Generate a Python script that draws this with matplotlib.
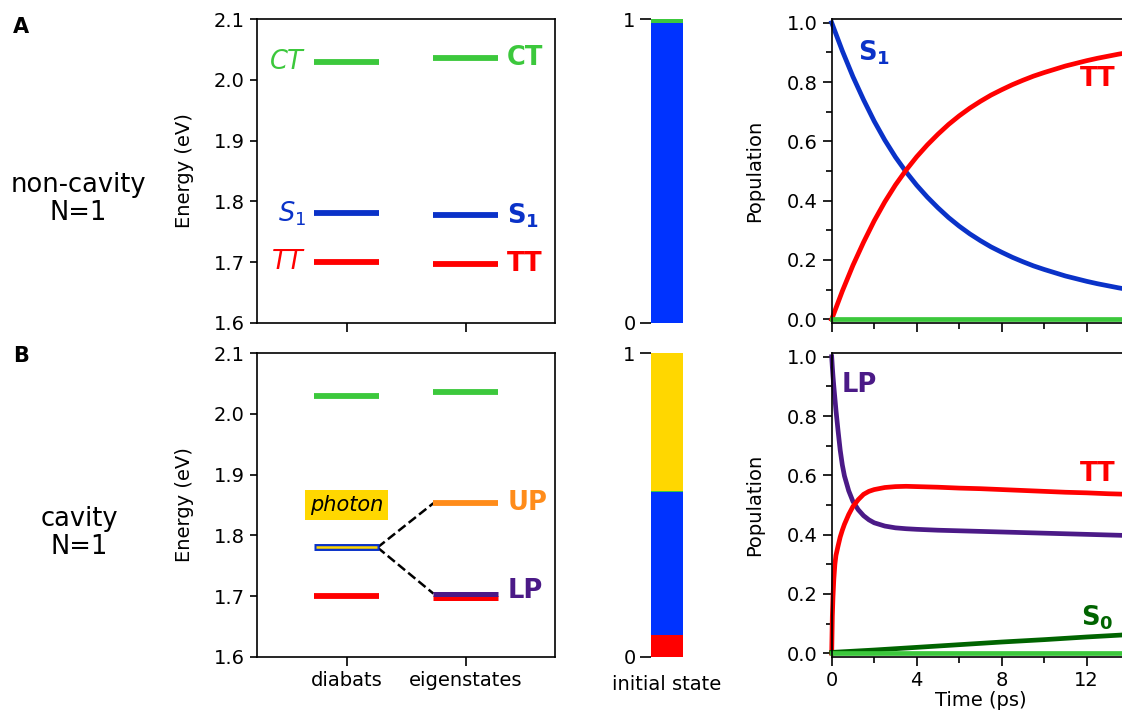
import matplotlib
matplotlib.use("Agg")
import matplotlib.pyplot as plt
from matplotlib.ticker import MultipleLocator

# ---------------- data ----------------
# energy levels (eV)
diabat_A = {"CT": 2.030, "S1": 1.780, "TT": 1.700}
eigen_A = {"CT": 2.037, "S1": 1.777, "TT": 1.697}
diabat_B = {"CT": 2.030, "photon": 1.780, "TT": 1.700}
eigen_B = {"CT": 2.037, "UP": 1.853, "LP": 1.704, "TT": 1.697}

# initial-state composition (bottom -> top)
bar_states = ["TT", "S1", "CT", "photon"]
bar_A = [0.0, 0.988, 0.012, 0.0]
bar_B = [0.073, 0.469, 0.003, 0.455]

# population dynamics, panel A
tA = [0, 0.5, 1, 1.5, 2, 2.5, 3, 3.5, 4, 4.5, 5, 5.5, 6, 6.5, 7, 7.5, 8, 8.5,
      9, 9.5, 10, 10.5, 11, 11.5, 12, 12.5, 13, 13.5, 14]
S1_A = [1.000, 0.905, 0.818, 0.740, 0.668, 0.604, 0.547, 0.497, 0.452, 0.412,
        0.376, 0.343, 0.314, 0.288, 0.265, 0.244, 0.226, 0.209, 0.194, 0.180,
        0.168, 0.157, 0.146, 0.137, 0.128, 0.120, 0.113, 0.106, 0.100]
TT_A = [0.000, 0.095, 0.182, 0.260, 0.332, 0.396, 0.453, 0.503, 0.548, 0.588,
        0.624, 0.657, 0.686, 0.712, 0.735, 0.756, 0.774, 0.791, 0.806, 0.820,
        0.832, 0.843, 0.854, 0.863, 0.872, 0.880, 0.887, 0.894, 0.900]
CT_A = [0.0] * len(tA)

# population dynamics, panel B
tB = [0, 0.03, 0.06, 0.1, 0.15, 0.2, 0.3, 0.4, 0.5, 0.6, 0.8, 1.0, 1.25, 1.5,
      1.75, 2, 2.5, 3, 3.5, 4, 5, 6, 7, 8, 9, 10, 11, 12, 13, 14]
LP_B = [1.0, 0.965, 0.935, 0.90, 0.86, 0.82, 0.75, 0.685, 0.635, 0.598, 0.548,
        0.512, 0.484, 0.464, 0.450, 0.440, 0.429, 0.423, 0.420, 0.418, 0.415,
        0.413, 0.411, 0.409, 0.407, 0.405, 0.403, 0.401, 0.399, 0.397]
TT_B = [0.0, 0.125, 0.19, 0.25, 0.30, 0.33, 0.362, 0.392, 0.415, 0.435, 0.468,
        0.495, 0.518, 0.536, 0.546, 0.552, 0.559, 0.562, 0.563, 0.562, 0.560,
        0.557, 0.555, 0.552, 0.549, 0.546, 0.543, 0.541, 0.538, 0.536]
tB_S0 = [0, 2, 4, 6, 8, 10, 12, 14]
S0_B = [0.003, 0.011, 0.020, 0.029, 0.038, 0.046, 0.055, 0.063]
CT_B = [0.0] * len(tB_S0)

# ---------------- style ----------------
GREEN = "#3cc83c"
BLUE = "#0a32c8"
BAR_BLUE = "#0033ff"
RED = "#ff0000"
ORANGE = "#ff8c1a"
PURPLE = "#4b1a87"
DKGREEN = "#006400"
GOLD = "#ffd700"
bar_colors = {"TT": RED, "S1": BAR_BLUE, "CT": GREEN, "photon": GOLD}

plt.rcParams["font.family"] = ["DejaVu Sans"]
plt.rcParams["axes.linewidth"] = 1.2

W, H = 1122, 713
fig = plt.figure(figsize=(W / 100, H / 100), dpi=100)


def ax_px(left, top, width, height):
    return fig.add_axes([left / W, 1 - (top + height) / H, width / W, height / H])


row_tops = [19.3, 353.3]
row_h = 303.4
LW_LEVEL = 4.2
FS_TICK = 14
FS_LAB = 18.5


def level(ax, x, e, color, lw=LW_LEVEL, z=2):
    ax.plot([x - 0.27, x + 0.27], [e, e], color=color, lw=lw,
            solid_capstyle="butt", zorder=z)


def energy_axes(top, show_xlabels):
    ax = ax_px(257.3, top, 297.5, row_h)
    ax.set_xlim(0.25, 2.75)
    ax.set_ylim(1.6, 2.1)
    ax.set_yticks([1.6, 1.7, 1.8, 1.9, 2.0, 2.1])
    ax.set_xticks([1, 2])
    ax.set_xticklabels(["diabats", "eigenstates"] if show_xlabels else ["", ""])
    ax.tick_params(axis="y", length=5, width=1.2, labelsize=FS_TICK, pad=4)
    ax.tick_params(axis="x", length=6.5, width=1.2, labelsize=FS_TICK, pad=4)
    ax.set_ylabel("Energy (eV)", fontsize=FS_TICK)
    ax.yaxis.set_label_coords(-0.214, 0.5)
    return ax


# ---------- Panel A energy ----------
axE1 = energy_axes(row_tops[0], False)
colsA = {"CT": GREEN, "S1": BLUE, "TT": RED}
left_txt = {"CT": r"$CT$", "S1": r"$S_1$", "TT": r"$TT$"}
right_txt = {"CT": "CT", "S1": r"$\mathbf{S_1}$", "TT": "TT"}
for k in diabat_A:
    level(axE1, 1, diabat_A[k], colsA[k])
    axE1.text(0.66, diabat_A[k], left_txt[k], color=colsA[k], fontsize=FS_LAB,
              ha="right", va="center")
for k in eigen_A:
    level(axE1, 2, eigen_A[k], colsA[k])
    axE1.text(2.35, eigen_A[k], right_txt[k], color=colsA[k], fontsize=FS_LAB,
              ha="left", va="center", fontweight="bold")

# ---------- Panel B energy ----------
axE2 = energy_axes(row_tops[1], True)
level(axE2, 1, diabat_B["CT"], GREEN)
level(axE2, 1, diabat_B["TT"], RED)
level(axE2, 1, diabat_B["photon"], BLUE, lw=5.0)
axE2.plot([0.745, 1.255], [diabat_B["photon"]] * 2, color=GOLD, lw=1.8,
          solid_capstyle="butt", zorder=3)
level(axE2, 2, eigen_B["CT"], GREEN)
level(axE2, 2, eigen_B["UP"], ORANGE)
level(axE2, 2, eigen_B["TT"], RED, lw=3.6)
level(axE2, 2, eigen_B["LP"], PURPLE, lw=3.6, z=3)
axE2.plot([1.26, 1.73], [diabat_B["photon"], eigen_B["UP"]], "k--", lw=1.8, zorder=1)
axE2.plot([1.26, 1.73], [diabat_B["photon"], eigen_B["LP"]], "k--", lw=1.8, zorder=1)
axE2.text(1.0, 1.85, "photon", fontsize=15, style="italic", ha="center",
          va="center", bbox=dict(boxstyle="square,pad=0.22", fc=GOLD, ec="none"))
axE2.text(2.35, eigen_B["UP"], "UP", color=ORANGE, fontsize=FS_LAB,
          fontweight="bold", ha="left", va="center")
axE2.text(2.35, eigen_B["LP"] + 0.004, "LP", color=PURPLE, fontsize=FS_LAB,
          fontweight="bold", ha="left", va="center")


# ---------- initial-state bars ----------
def bar_axes(top, fracs, label):
    ax = ax_px(651, top, 32, row_h)
    bottom = 0.0
    for st, f in zip(bar_states, fracs):
        if f > 0:
            ax.bar(0, f, bottom=bottom, width=1.0, color=bar_colors[st], lw=0)
        bottom += f
    ax.set_xlim(-0.5, 0.5)
    ax.set_ylim(0, 1)
    for s in ax.spines.values():
        s.set_visible(False)
    ax.set_yticks([0, 1])
    ax.set_yticklabels(["0", "1"])
    ax.tick_params(axis="y", length=8, width=1.2, labelsize=FS_TICK, pad=3)
    ax.set_xticks([0])
    ax.set_xticklabels([label])
    ax.tick_params(axis="x", length=0, labelsize=FS_TICK, pad=13)
    return ax


bar_axes(row_tops[0], bar_A, "")
bar_axes(row_tops[1], bar_B, "initial state")


# ---------- populations ----------
def pop_axes(top, show_xlabels):
    ax = ax_px(831.7, top, 297.5, row_h)
    ax.set_xlim(0, 14)
    ax.set_ylim(-0.0115, 1.0115)
    ax.xaxis.set_major_locator(MultipleLocator(4))
    ax.xaxis.set_minor_locator(MultipleLocator(2))
    ax.yaxis.set_major_locator(MultipleLocator(0.2))
    ax.yaxis.set_minor_locator(MultipleLocator(0.1))
    ax.tick_params(which="major", length=6.5, width=1.2, labelsize=FS_TICK)
    ax.tick_params(which="minor", length=4, width=1.2)
    ax.set_ylabel("Population", fontsize=FS_TICK)
    ax.yaxis.set_label_coords(-0.226, 0.5)
    if show_xlabels:
        ax.set_xlabel("Time (ps)", fontsize=FS_TICK, labelpad=1)
    else:
        ax.set_xticklabels([])
    return ax


axP1 = pop_axes(row_tops[0], False)
LW = 3.4
axP1.plot(tA, S1_A, color=BLUE, lw=LW, clip_on=False)
axP1.plot(tA, TT_A, color=RED, lw=LW, clip_on=False)
axP1.plot(tA, CT_A, color=GREEN, lw=LW, clip_on=False)
axP1.text(2.0, 0.90, r"$\mathbf{S_1}$", color=BLUE, fontsize=FS_LAB, ha="center", va="center")
axP1.text(12.5, 0.81, "TT", color=RED, fontsize=FS_LAB, fontweight="bold", ha="center", va="center")

axP2 = pop_axes(row_tops[1], True)
axP2.plot(tB, LP_B, color=PURPLE, lw=LW, clip_on=False)
axP2.plot(tB, TT_B, color=RED, lw=LW, clip_on=False)
axP2.plot(tB_S0, S0_B, color=DKGREEN, lw=LW, clip_on=False)
axP2.plot(tB_S0, CT_B, color=GREEN, lw=LW, clip_on=False)
axP2.text(1.3, 0.905, "LP", color=PURPLE, fontsize=FS_LAB, fontweight="bold", ha="center", va="center")
axP2.text(12.5, 0.605, "TT", color=RED, fontsize=FS_LAB, fontweight="bold", ha="center", va="center")
axP2.text(12.5, 0.12, r"$\mathbf{S_0}$", color=DKGREEN, fontsize=FS_LAB, ha="center", va="center")

# ---------- panel letters / row titles ----------
fig.text(13 / W, 1 - 17 / H, "A", fontsize=15, fontweight="bold", ha="left", va="top")
fig.text(13 / W, 1 - 346 / H, "B", fontsize=15, fontweight="bold", ha="left", va="top")
fig.text(78 / W, 1 - 199 / H, "non-cavity\nN=1", fontsize=FS_LAB, ha="center",
         va="center", multialignment="center", linespacing=1.15)
fig.text(79 / W, 1 - 533 / H, "cavity\nN=1", fontsize=FS_LAB, ha="center",
         va="center", multialignment="center", linespacing=1.15)

fig.savefig("out.png", dpi=100)
